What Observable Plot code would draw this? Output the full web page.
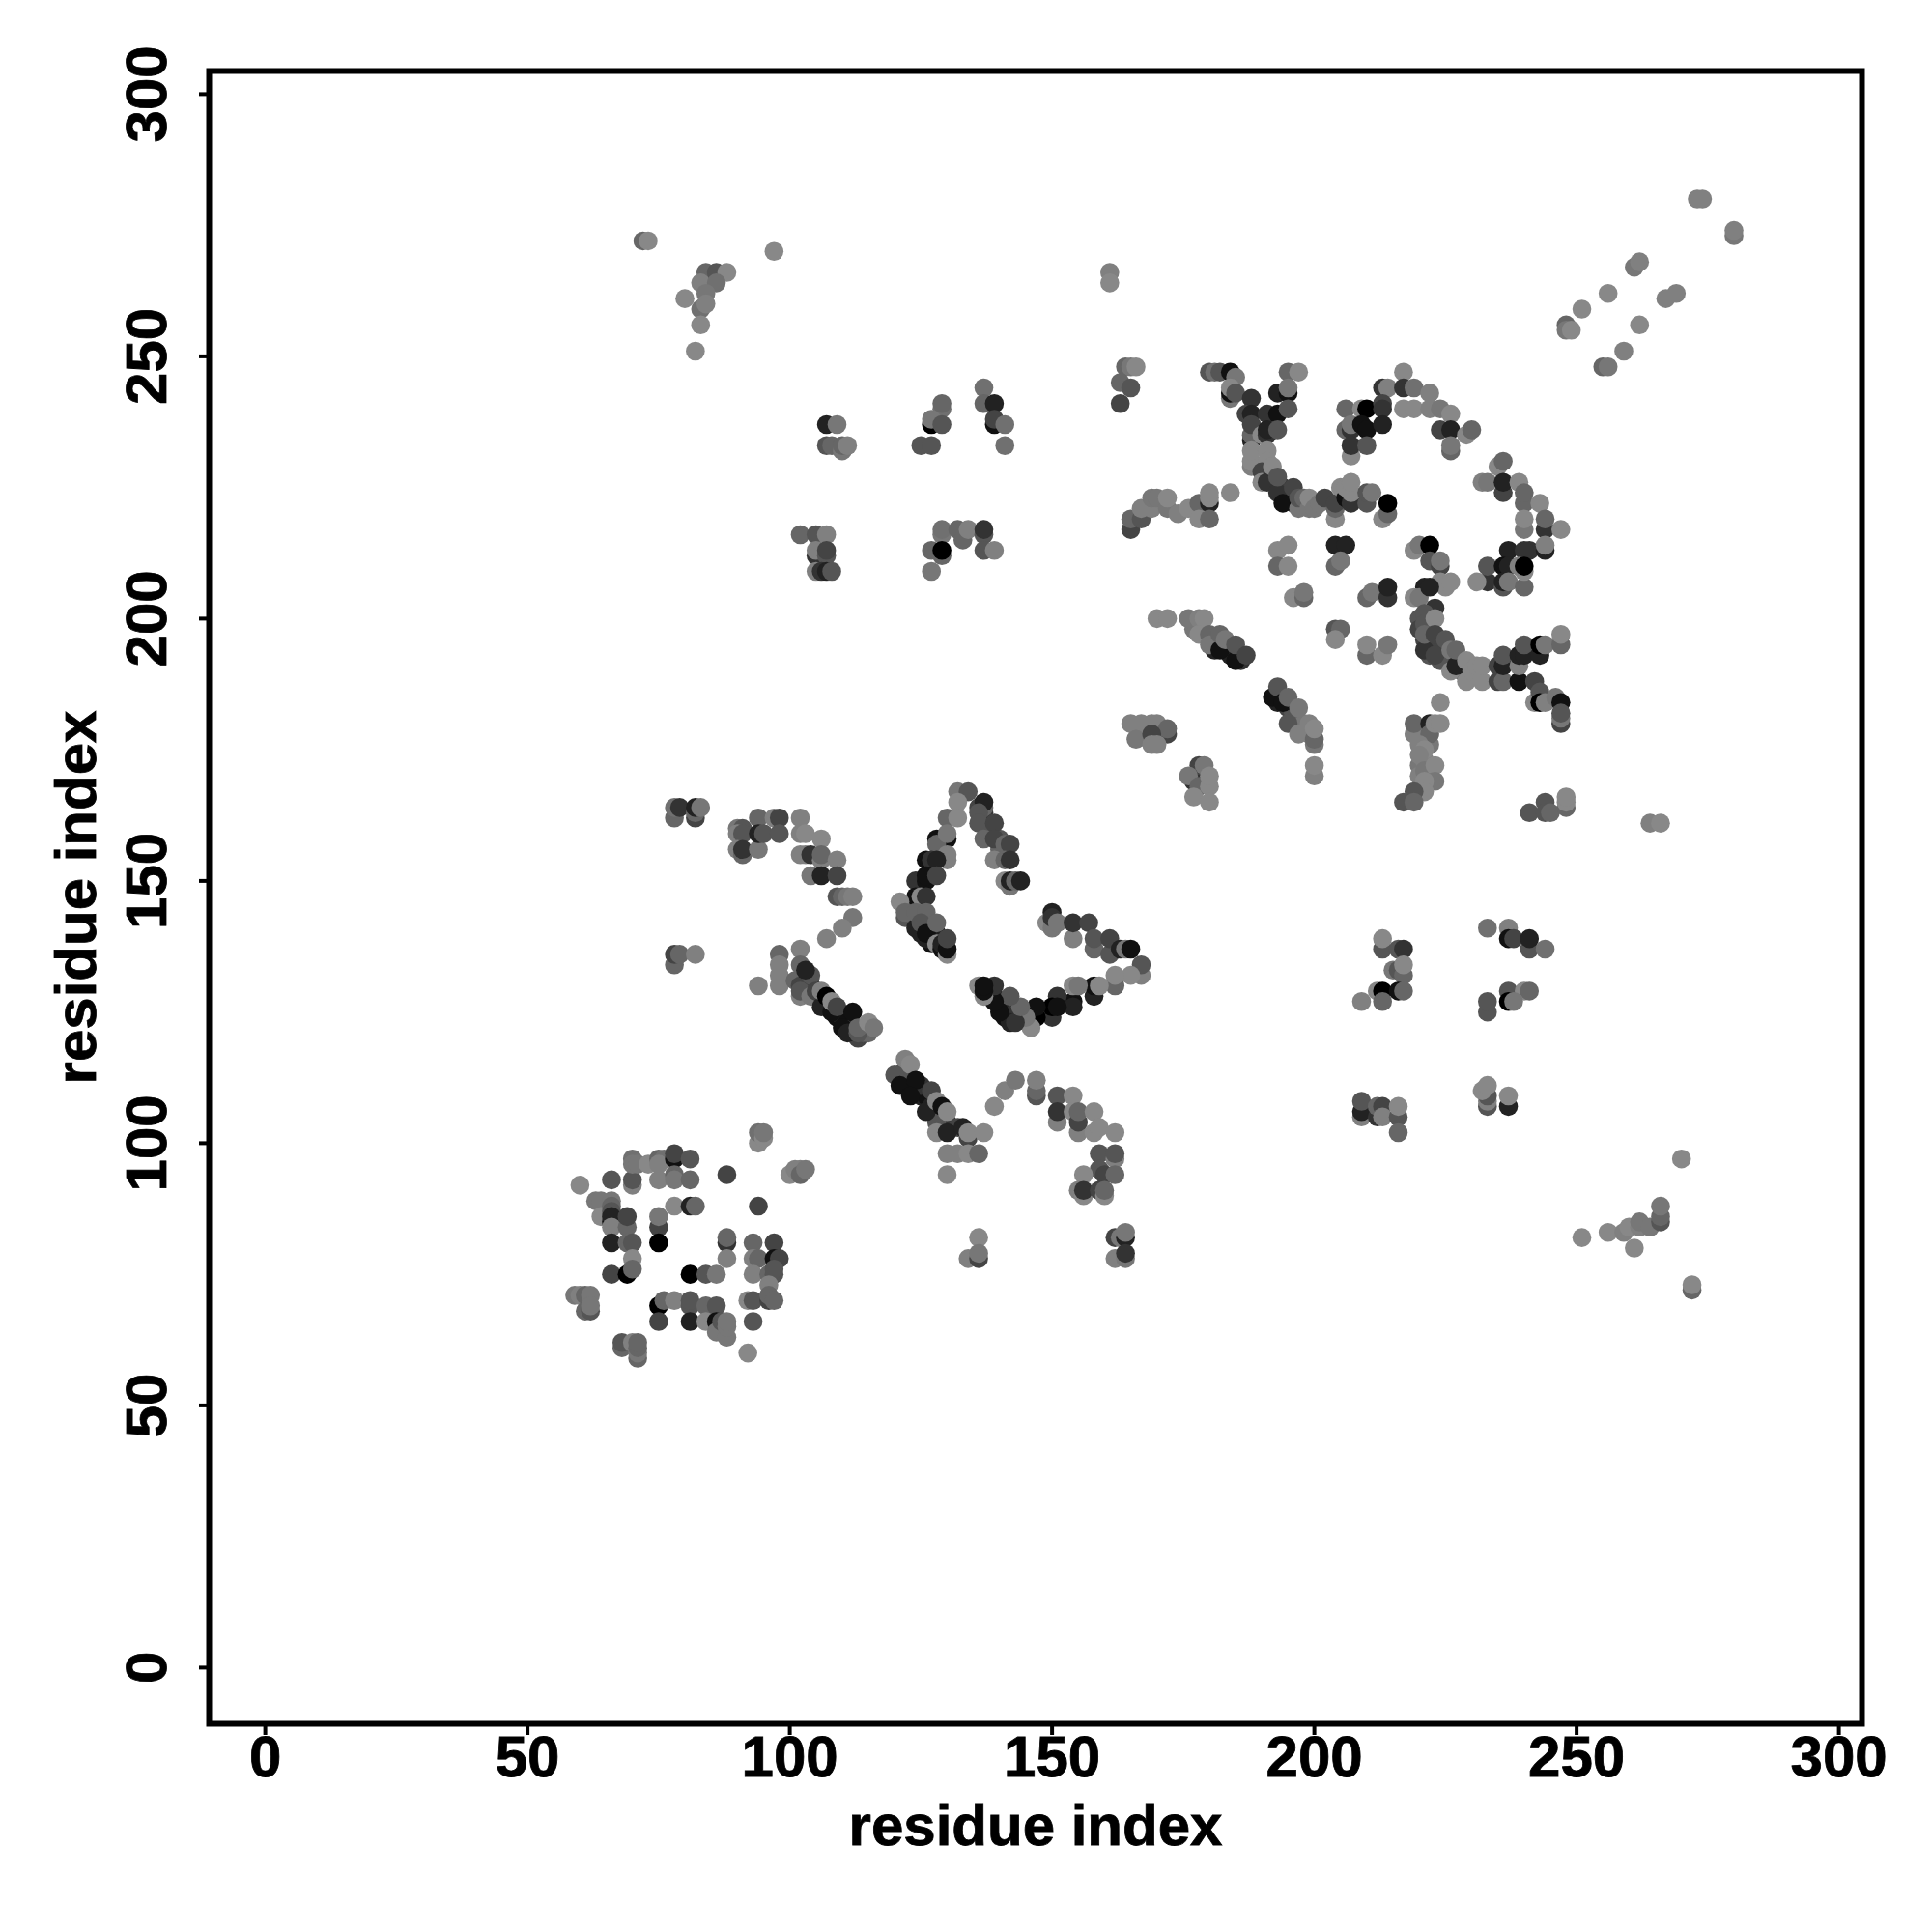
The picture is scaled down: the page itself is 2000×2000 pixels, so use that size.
<!DOCTYPE html>
<html>
<head>
<meta charset="utf-8">
<script src="https://cdn.jsdelivr.net/npm/d3@7"></script>
<script src="https://cdn.jsdelivr.net/npm/@observablehq/plot@0.6"></script>
<style>html,body{margin:0;padding:0;background:#fff} svg text{stroke:#000;stroke-width:0.8px}</style>
</head>
<body>
<div id="chart"></div>
<script>
// contacts: [residue i, residue j, grey level]
const denseBands = [[103,131,0x33],[104,130,0x22],[105,128,0x22],[106,127,0x11],[107,126,0x22],[108,126,0x11],[109,124,0x11],[110,124,0x22],[111,123,0x11],[112,122,0x33],[113,120,0x44],[114,121,0x55],[115,121,0x66],[121,113,0x33],[122,112,0x22],[123,111,0x22],[124,110,0x11],[125,109,0x22],[126,109,0x11],[127,107,0x22],[128,106,0x22],[129,105,0x11],[130,104,0x33],[131,103,0x33],[132,103,0x44],[122,114,0x55],[125,111,0x33],[128,104,0x55],[178,199,0x66],[177,198,0x77],[179,197,0x55],[180,196,0x44],[181,196,0x33],[181,194,0x22],[182,195,0x33],[183,194,0x22],[184,193,0x22],[186,192,0x33],[193,185,0x33],[193,184,0x22],[194,185,0x33],[195,183,0x44],[196,182,0x55],[196,180,0x66],[198,179,0x77],[198,180,0x77],[199,178,0x77],[125,145,0x44],[126,143,0x33],[127,141,0x22],[128,140,0x22],[123,145,0x55],[123,143,0x44],[125,140,0x22],[127,138,0x11],[128,139,0x22],[138,128,0x22],[139,128,0x11],[140,127,0x22],[141,126,0x22],[141,124,0x11],[142,125,0x22],[143,125,0x33],[144,124,0x33],[145,125,0x11],[142,123,0x22],[220,200,0x55],[220,198,0x44],[221,196,0x44],[222,195,0x44],[222,193,0x55],[224,194,0x44],[225,192,0x44],[226,192,0x44],[224,192,0x55],[228,190,0x66],[136,164,0x44],[137,163,0x33],[138,160,0x55],[140,158,0x55],[140,156,0x66],[192,227,0x44],[194,225,0x33],[195,223,0x33],[195,224,0x44],[196,222,0x33],[198,222,0x66],[220,178,0x66],[221,177,0x77],[222,176,0x77],[220,172,0x77],[221,173,0x80],[222,170,0x77],[220,170,0x80]];

const lowerLeft = [[60,92,0x88],[66,93,0x55],[70,92,0x80],[70,93,0x55],[70,97,0x70],[70,96,0x77],[71,96,0x77],[73,96,0x88],[75,97,0x66],[76,97,0x70],[75,96,0x80],[78,97,0x11],[78,98,0x44],[81,97,0x55],[75,93,0x80],[78,94,0x66],[78,93,0x77],[81,93,0x66],[88,94,0x44],[94,100,0x88],[94,102,0x70],[95,101,0x88],[95,102,0x77],[100,94,0x88],[101,95,0x80],[102,95,0x80],[102,94,0x66],[103,95,0x77],[63,89,0x77],[64,89,0x77],[64,86,0x88],[66,89,0x77],[66,88,0x66],[66,87,0x55],[66,85,0x11],[66,86,0x22],[66,84,0x80],[69,84,0x66],[69,86,0x44],[75,84,0x44],[75,86,0x77],[78,88,0x88],[81,88,0x22],[82,88,0x66],[94,88,0x44],[66,81,0x22],[69,81,0x66],[70,81,0x55],[75,81,0x00],[88,81,0x33],[88,82,0x66],[88,78,0x80],[93,81,0x66],[97,81,0x44],[93,78,0x80],[94,78,0x66],[97,78,0x11],[98,78,0x44],[93,75,0x80],[96,75,0x66],[97,75,0x55],[97,76,0x55],[96,73,0x80],[92,70,0x88],[93,70,0x55],[96,70,0x44],[96,71,0x66],[97,70,0x66],[70,78,0x88],[66,75,0x44],[69,75,0x00],[70,76,0x66],[81,75,0x00],[84,75,0x55],[86,75,0x77],[75,69,0x00],[76,70,0x66],[78,70,0x80],[81,69,0x55],[81,70,0x55],[84,69,0x66],[86,69,0x55],[75,66,0x44],[81,66,0x22],[84,66,0x88],[86,66,0x11],[86,64,0x77],[87,66,0x55],[88,63,0x77],[88,65,0x77],[88,66,0x77],[93,66,0x55],[92,60,0x88],[59,71,0x77],[60,71,0x80],[61,71,0x66],[62,71,0x77],[61,68,0x66],[62,68,0x55],[62,69,0x77],[68,61,0x66],[68,62,0x55],[70,62,0x80],[71,59,0x66],[71,60,0x77],[71,61,0x66],[71,62,0x66]];

const midArc = [[78,162,0x66],[78,164,0x70],[79,164,0x33],[82,162,0x44],[82,163,0x66],[82,164,0x22],[83,164,0x77],[90,160,0x77],[91,160,0x55],[90,159,0x80],[91,159,0x55],[90,156,0x80],[91,155,0x66],[91,156,0x33],[94,156,0x77],[94,162,0x66],[94,159,0x22],[95,159,0x55],[97,162,0x80],[98,162,0x44],[98,159,0x55],[102,162,0x80],[102,159,0x80],[103,159,0x88],[106,158,0x88],[102,155,0x80],[103,155,0x80],[104,155,0x33],[106,154,0x80],[106,155,0x66],[109,154,0x80],[104,151,0x77],[106,151,0x22],[109,151,0x44],[109,147,0x55],[110,147,0x66],[111,147,0x77],[112,147,0x80],[112,143,0x77],[110,141,0x80],[107,139,0x80],[78,134,0x66],[78,136,0x44],[79,136,0x66],[82,136,0x80],[102,137,0x80],[98,136,0x66],[98,134,0x80],[98,132,0x80],[98,130,0x80],[94,130,0x80]];

const diagonalA = [[102,128,0x80],[101,131,0x66],[102,130,0x44],[102,129,0x55],[102,134,0x66],[104,128,0x77],[104,132,0x55],[105,129,0x44],[106,126,0x22],[106,129,0x80],[108,125,0x11],[107,128,0x00],[108,127,0x88],[110,122,0x11],[109,126,0x44],[111,121,0x22],[112,125,0x11],[103,133,0x22],[113,121,0x55],[113,122,0x66],[115,123,0x88],[116,122,0x77]];

const diagonalB = [[122,116,0x80],[120,113,0x55],[123,115,0x88],[121,111,0x11],[124,112,0x11],[123,109,0x11],[127,110,0x44],[126,106,0x22],[128,108,0x88],[129,107,0x11],[128,102,0x88],[130,106,0x88],[130,102,0x22],[133,103,0x22],[134,101,0x44],[134,102,0x88],[137,102,0x88],[130,98,0x80],[132,98,0x80],[134,98,0x88],[136,98,0x66],[130,94,0x88],[139,107,0x88],[141,110,0x80],[143,112,0x77],[147,109,0x55],[147,110,0x66],[147,112,0x80],[151,109,0x55],[154,109,0x88],[151,104,0x80],[151,106,0x33],[154,106,0x88],[155,102,0x80],[155,104,0x44],[155,106,0x66],[158,106,0x88],[158,102,0x88],[159,103,0x88],[162,102,0x88],[159,98,0x55],[162,97,0x80],[162,98,0x55],[159,95,0x55],[160,94,0x44],[162,94,0x66],[156,94,0x88],[155,91,0x80],[156,90,0x88],[156,91,0x33],[159,91,0x44],[160,90,0x88],[160,91,0x66],[136,82,0x88],[134,78,0x80],[136,78,0x44],[136,79,0x77],[162,82,0x44],[163,82,0x77],[164,82,0x22],[164,83,0x77],[162,78,0x80],[164,78,0x77],[164,79,0x33]];

const crescentLeft = [[132,167,0x77],[134,167,0x55],[132,165,0x88],[137,164,0x66],[137,165,0x22],[136,163,0x55],[130,162,0x66],[132,162,0x88],[136,161,0x55],[139,161,0x44],[137,158,0x66],[139,158,0x44],[141,157,0x66],[142,157,0x44],[139,154,0x80],[141,154,0x66],[142,154,0x33],[141,150,0x88],[142,149,0x77],[142,150,0x22],[143,150,0x66],[144,150,0x22],[128,158,0x11],[130,158,0x11],[128,157,0x66],[130,159,0x77],[130,154,0x80],[130,155,0x80],[126,154,0x11],[127,154,0x33],[128,154,0x22],[124,150,0x33],[126,150,0x11],[126,151,0x11],[128,151,0x44],[124,147,0x11],[125,147,0x88],[126,147,0x33],[121,146,0x88],[122,143,0x55],[122,144,0x66],[124,141,0x22],[124,144,0x66],[126,144,0x66],[125,142,0x55],[126,139,0x22],[126,140,0x11],[128,138,0x88],[128,142,0x66],[129,137,0x11],[129,138,0x22],[130,136,0x88],[130,137,0x11],[130,139,0x44]];

const crescentRight = [[150,144,0x22],[149,142,0x88],[150,141,0x77],[150,143,0x33],[151,142,0x77],[154,139,0x80],[154,142,0x33],[157,142,0x44],[158,137,0x66],[158,139,0x55],[161,136,0x55],[161,139,0x44],[163,137,0x22],[164,137,0x77],[165,137,0x11],[167,132,0x80],[167,134,0x55],[165,132,0x88],[162,130,0x66],[162,132,0x88],[158,128,0x22],[158,130,0x11],[159,130,0x88],[154,127,0x11],[154,126,0x22],[154,130,0x88],[155,130,0x77],[151,128,0x33],[150,124,0x33],[150,126,0x00],[151,126,0x11],[147,124,0x00],[147,126,0x11],[146,122,0x88],[145,124,0x77],[143,123,0x33],[144,126,0x66],[142,128,0x55],[140,125,0x11],[139,127,0x11],[139,130,0x33],[136,130,0x88],[137,128,0x88],[137,129,0x11],[137,130,0x11]];

const upperPatchesLeft = [[107,237,0x22],[109,237,0x77],[107,233,0x55],[108,233,0x66],[110,232,0x77],[110,233,0x66],[111,233,0x80],[129,240,0x70],[129,241,0x66],[127,237,0x00],[127,238,0x77],[129,237,0x55],[125,233,0x55],[127,233,0x55],[137,244,0x70],[137,241,0x66],[139,241,0x22],[139,237,0x11],[139,238,0x44],[141,237,0x70],[141,233,0x70],[102,216,0x66],[105,216,0x55],[107,216,0x80],[105,212,0x33],[105,213,0x80],[107,212,0x55],[107,213,0x44],[105,209,0x80],[106,209,0x33],[107,209,0x22],[108,209,0x55],[129,216,0x77],[129,217,0x70],[132,217,0x66],[133,215,0x66],[134,217,0x80],[137,216,0x55],[137,217,0x33],[127,213,0x66],[129,212,0x66],[129,213,0x00],[137,213,0x55],[139,213,0x80],[127,209,0x77]];

const topLeft = [[72,272,0x66],[73,272,0x88],[97,270,0x88],[84,266,0x66],[86,266,0x55],[88,266,0x88],[83,264,0x80],[86,264,0x70],[84,262,0x77],[80,261,0x88],[83,259,0x70],[84,260,0x80],[83,256,0x88],[82,251,0x88]];

const topRight = [[273,280,0x80],[274,280,0x80],[280,273,0x77],[280,274,0x80],[269,262,0x80],[267,261,0x80],[261,267,0x77],[262,268,0x80],[256,262,0x88],[251,259,0x88],[262,256,0x88],[259,251,0x80],[255,248,0x66],[256,248,0x77],[248,256,0x66],[248,255,0x77],[249,255,0x88]];

const upperCentre = [[164,248,0x66],[165,248,0x77],[166,248,0x88],[163,245,0x66],[165,244,0x55],[163,241,0x44],[161,266,0x80],[161,264,0x88],[180,247,0x55],[181,247,0x70],[182,247,0x55],[184,247,0x11],[185,246,0x77],[184,242,0x77],[184,243,0x11],[184,244,0x88],[185,243,0x55],[188,242,0x33],[187,239,0x44],[188,239,0x22],[188,234,0x22],[188,235,0x66],[188,237,0x44],[195,247,0x66],[197,247,0x88],[193,243,0x22],[195,243,0x11],[195,244,0x77],[191,239,0x33],[193,239,0x11],[195,240,0x55],[190,235,0x88],[191,235,0x33],[191,236,0x22],[193,236,0x55],[188,229,0x80],[188,230,0x88],[188,232,0x88],[191,232,0x88],[191,230,0x88],[190,228,0x44],[190,226,0x88],[191,226,0x33],[192,229,0x88],[193,224,0x33],[193,227,0x55],[194,222,0x11],[196,225,0x44],[197,221,0x77],[197,223,0x55],[198,223,0x66],[199,221,0x77],[199,223,0x88],[200,221,0x77],[201,222,0x77],[202,223,0x44],[204,219,0x88],[204,221,0x66],[204,222,0x44],[205,225,0x88],[206,223,0x11],[207,222,0x33],[206,225,0x88],[207,224,0x88],[207,226,0x88],[210,222,0x55],[210,224,0x55],[211,224,0x77],[213,219,0x88],[214,220,0x66],[214,222,0x00],[165,217,0x44],[165,219,0x66],[167,219,0x55],[167,221,0x80],[169,221,0x80],[169,223,0x77],[170,223,0x77],[172,221,0x77],[172,223,0x88],[174,220,0x80],[176,221,0x88],[178,222,0x66],[178,219,0x88],[180,222,0x22],[180,219,0x66],[180,223,0x88],[180,224,0x88],[184,224,0x88],[193,213,0x88],[195,214,0x88],[193,210,0x66],[195,210,0x88],[204,214,0x22],[206,214,0x22],[204,210,0x66],[205,211,0x77],[196,204,0x88],[198,204,0x66],[198,205,0x77],[210,204,0x66],[211,205,0x77],[214,204,0x33],[214,206,0x22]];

const diagonalC = [[170,200,0x88],[172,200,0x88],[176,200,0x77],[178,200,0x80],[179,200,0x88],[178,197,0x88],[180,197,0x66],[180,195,0x77],[182,194,0x11],[182,197,0x66],[183,196,0x77],[185,192,0x11],[185,195,0x55],[187,193,0x44],[192,185,0x11],[193,187,0x55],[194,184,0x11],[195,185,0x66],[195,180,0x55],[197,183,0x77],[197,178,0x80],[199,180,0x80],[200,176,0x77],[200,177,0x66],[200,179,0x88],[200,170,0x80],[200,172,0x88],[165,180,0x80],[167,180,0x80],[169,180,0x80],[170,180,0x80],[172,178,0x44],[172,179,0x66],[166,177,0x77],[169,178,0x44],[169,176,0x80],[170,176,0x80],[177,169,0x33],[178,172,0x44],[179,172,0x77],[176,170,0x77],[178,168,0x66],[180,168,0x88],[180,170,0x88],[177,166,0x88],[180,165,0x88],[204,198,0x55],[205,198,0x66],[204,196,0x88],[210,193,0x66],[210,195,0x88],[213,193,0x88],[214,195,0x77]];

const upperRight = [[217,247,0x88],[213,244,0x33],[214,244,0x80],[217,244,0x33],[219,244,0x70],[222,243,0x80],[206,240,0x66],[209,240,0x88],[210,240,0x00],[213,241,0x44],[213,240,0x33],[217,240,0x88],[219,240,0x88],[222,240,0x80],[224,240,0x77],[226,239,0x88],[206,236,0x66],[207,236,0x33],[207,237,0x77],[209,237,0x11],[210,236,0x11],[213,237,0x22],[207,231,0x88],[207,233,0x33],[210,233,0x55],[224,236,0x44],[226,236,0x22],[229,235,0x88],[230,236,0x66],[226,232,0x66],[226,233,0x77],[235,229,0x88],[236,230,0x66],[232,226,0x80],[233,226,0x77],[236,224,0x44],[236,226,0x22],[239,226,0x88],[240,222,0x66],[240,224,0x66],[243,222,0x88],[240,217,0x77],[240,219,0x88],[244,217,0x33],[244,219,0x66],[247,217,0x88],[237,213,0x22],[241,213,0x33],[240,213,0x33],[244,213,0x22],[244,214,0x80],[233,207,0x33],[233,210,0x55],[231,207,0x88],[236,210,0x11],[237,210,0x22],[236,206,0x55],[236,207,0x22],[237,207,0x77],[240,206,0x66],[240,209,0x88],[239,210,0x80],[240,210,0x00],[219,213,0x88],[220,214,0x77],[222,214,0x00],[222,211,0x55],[224,210,0x44],[224,211,0x77],[221,206,0x22],[225,206,0x88],[224,207,0x88],[226,207,0x88],[219,204,0x88],[220,204,0x77],[222,206,0x22],[223,202,0x33],[221,201,0x55],[221,199,0x55],[223,200,0x88],[221,194,0x33],[221,197,0x66],[223,193,0x44],[223,197,0x44],[225,196,0x55],[226,190,0x88],[226,194,0x77],[227,191,0x22],[227,194,0x66],[229,188,0x88],[229,192,0x88],[230,190,0x88],[231,191,0x88],[232,188,0x88],[232,191,0x88],[235,188,0x44],[235,191,0x44],[236,188,0x66],[236,191,0x22],[236,193,0x55],[239,188,0x11],[239,191,0x80],[239,193,0x22],[240,193,0x22],[240,195,0x55],[243,193,0x22],[243,195,0x00],[244,195,0x77],[247,195,0x66],[247,197,0x88],[242,188,0x44],[242,184,0x88],[243,186,0x55],[243,184,0x00],[244,184,0x80],[246,185,0x77],[247,184,0x11],[247,180,0x44],[247,181,0x77],[247,182,0x55],[224,184,0x88],[219,178,0x80],[219,180,0x66],[222,180,0x22],[222,178,0x66],[223,180,0x88],[224,180,0x88],[220,176,0x80],[221,175,0x88],[220,174,0x80],[221,171,0x77],[223,172,0x88],[223,169,0x77],[221,169,0x88],[221,167,0x88],[219,167,0x55],[217,165,0x55],[219,165,0x66],[241,163,0x55],[244,165,0x55],[244,163,0x55],[245,163,0x66],[248,164,0x66],[248,165,0x88],[248,166,0x88]];

const lowerRight = [[213,137,0x55],[213,139,0x88],[216,137,0x55],[217,137,0x33],[215,133,0x77],[216,133,0x55],[217,132,0x66],[217,134,0x88],[209,127,0x80],[212,129,0x88],[213,129,0x00],[213,127,0x66],[216,129,0x11],[217,129,0x66],[233,141,0x70],[237,141,0x80],[237,139,0x11],[238,139,0x44],[241,137,0x55],[241,139,0x22],[244,137,0x70],[237,129,0x55],[240,129,0x88],[241,129,0x66],[237,127,0x00],[238,127,0x77],[233,125,0x55],[233,127,0x55],[209,105,0x80],[209,106,0x22],[209,108,0x55],[212,105,0x33],[212,107,0x66],[213,107,0x44],[213,105,0x80],[216,105,0x55],[216,107,0x88],[216,102,0x66],[233,107,0x55],[233,108,0x80],[233,109,0x55],[232,110,0x88],[233,111,0x88],[237,107,0x22],[237,109,0x88],[264,161,0x80],[266,161,0x88],[270,97,0x88],[251,82,0x88],[256,83,0x88],[259,83,0x80],[260,84,0x88],[261,80,0x88],[262,84,0x80],[262,85,0x77],[264,84,0x77],[266,85,0x55],[266,86,0x66],[266,88,0x77],[272,72,0x66],[272,73,0x88]];

const contacts = [denseBands, lowerLeft, midArc, diagonalA, diagonalB, crescentLeft, crescentRight, upperPatchesLeft, topLeft, topRight, upperCentre, diagonalC, upperRight, lowerRight]
  .flat().map(([i, j, grey]) => ({i, j, grey}));

const xTicks = [0, 50, 100, 150, 200, 250, 300];
const yTicks = [0, 50, 100, 150, 200, 250, 300];
const axisLabel = "residue index";

const chart = Plot.plot({
  width: 2000,
  height: 2000,
  marginLeft: 216,
  marginRight: 73,
  marginTop: 73,
  marginBottom: 216,
  style: {fontFamily: "'Liberation Sans', Arial, sans-serif", fontWeight: "bold", background: "#fff", color: "#000"},
  x: {domain: [-10.7, 304.4]},
  y: {domain: [-10.7, 304.4]},
  color: {type: "linear", domain: [0, 255], range: ["#000", "#fff"]},
  marks: [
    Plot.dot(contacts, {x: "i", y: "j", r: 9.8, fill: d => d.grey, stroke: "none"}),
    Plot.frame({stroke: "#000", strokeWidth: 6}),
    Plot.axisX(xTicks, {anchor: "bottom", tickSize: 10, strokeWidth: 4, tickPadding: 0, fontSize: 60, label: null, dy: 2}),
    Plot.axisY(yTicks, {anchor: "left", tickSize: 10, strokeWidth: 4, tickRotate: -90, tickPadding: 35, fontSize: 60, label: null}),
    Plot.text([axisLabel], {frameAnchor: "bottom", dy: 125, fontSize: 60, fill: "#000"}),
    Plot.text([axisLabel], {frameAnchor: "left", textAnchor: "middle", dx: -137, rotate: -90, fontSize: 60, fill: "#000"})
  ]
});
document.getElementById("chart").appendChild(chart);
</script>
</body>
</html>
